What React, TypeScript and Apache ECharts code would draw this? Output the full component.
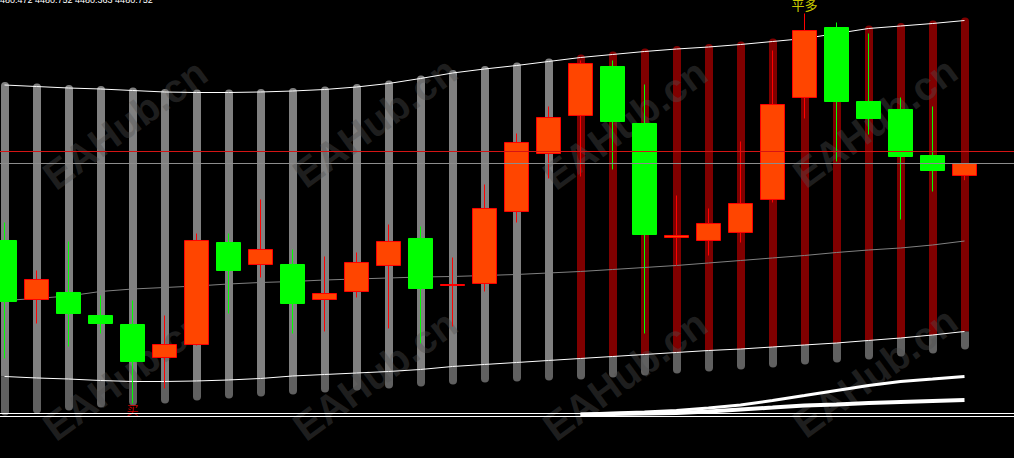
import React, { useEffect, useRef } from 'react';
import * as echarts from 'echarts';

// ---------- data ----------
// bar index positions (0 = oldest bar on screen)
const barIndex = Array.from({ length: 31 }, (_, i) => i);

// [open, close, low, high]
const candles: number[][] = [
  [4478.955, 4477.532, 4476.202, 4479.375],
  [4477.578, 4478.045, 4477.018, 4478.255],
  [4477.742, 4477.252, 4476.482, 4478.932],
  [4477.205, 4477.018, 4476.785, 4477.672],
  [4476.995, 4476.132, 4475.152, 4477.555],
  [4476.225, 4476.528, 4475.502, 4477.205],
  [4476.528, 4478.955, 4476.505, 4479.118],
  [4478.908, 4478.255, 4477.252, 4479.118],
  [4478.395, 4478.745, 4478.092, 4479.912],
  [4478.395, 4477.485, 4476.785, 4478.745],
  [4477.578, 4477.718, 4476.832, 4478.582],
  [4477.765, 4478.442, 4477.625, 4478.675],
  [4478.372, 4478.932, 4476.902, 4479.328],
  [4479.002, 4477.835, 4476.552, 4479.282],
  [4477.905, 4477.928, 4476.948, 4478.558],
  [4477.952, 4479.702, 4477.765, 4480.262],
  [4479.632, 4481.242, 4479.375, 4481.452],
  [4480.985, 4481.825, 4480.402, 4482.082],
  [4481.872, 4483.085, 4480.448, 4483.155],
  [4483.015, 4481.732, 4480.612, 4483.155],
  [4481.685, 4479.095, 4476.785, 4482.595],
  [4479.025, 4479.072, 4478.372, 4480.005],
  [4478.955, 4479.352, 4478.605, 4479.702],
  [4479.142, 4479.818, 4478.908, 4481.265],
  [4479.912, 4482.128, 4479.842, 4483.388],
  [4482.292, 4483.855, 4481.802, 4484.252],
  [4483.925, 4482.198, 4480.798, 4484.042],
  [4482.198, 4481.802, 4481.428, 4483.785],
  [4482.012, 4480.915, 4479.445, 4482.292],
  [4480.938, 4480.588, 4480.098, 4482.082],
  [4480.472, 4480.752, 4480.363, 4480.752],
];

const upperBand = [
  4482.583, 4482.548, 4482.513, 4482.49, 4482.455, 4482.42, 4482.408, 4482.408, 4482.42, 4482.443,
  4482.478, 4482.537, 4482.618, 4482.735, 4482.863, 4482.957, 4483.038, 4483.132, 4483.225, 4483.295,
  4483.365, 4483.423, 4483.47, 4483.528, 4483.598, 4483.668, 4483.785, 4483.902, 4483.96, 4484.018,
  4484.088,
];

const lowerBand = [
  4475.782, 4475.747, 4475.723, 4475.688, 4475.665, 4475.665, 4475.677, 4475.7, 4475.735, 4475.793,
  4475.828, 4475.863, 4475.898, 4475.945, 4476.015, 4476.062, 4476.108, 4476.155, 4476.202, 4476.248,
  4476.295, 4476.342, 4476.388, 4476.423, 4476.47, 4476.517, 4476.563, 4476.622, 4476.68, 4476.75,
  4476.832,
];

const columnBase = [
  4474.872, 4474.918, 4474.988, 4475.058, 4475.105, 4475.152, 4475.222, 4475.268, 4475.315, 4475.362,
  4475.408, 4475.455, 4475.502, 4475.548, 4475.595, 4475.642, 4475.665, 4475.688, 4475.712, 4475.758,
  4475.805, 4475.852, 4475.898, 4475.945, 4475.992, 4476.062, 4476.108, 4476.178, 4476.248, 4476.318,
  4476.412,
];

// 0 = neutral zone (grey), 1 = long zone (dark red)
const columnZone = [
  0, 0, 0, 0, 0, 0, 0, 0, 0, 0, 0, 0, 0, 0, 0, 0, 0, 0,
  1, 1, 1, 1, 1, 1, 1, 1, 1, 1, 1, 1, 1,
];

const maLine = [
  4477.555, 4477.602, 4477.66, 4477.765, 4477.823, 4477.858, 4477.893, 4477.94, 4477.975, 4477.998,
  4478.033, 4478.057, 4478.08, 4478.103, 4478.115, 4478.138, 4478.162, 4478.197, 4478.232, 4478.278,
  4478.325, 4478.372, 4478.43, 4478.488, 4478.547, 4478.605, 4478.675, 4478.733, 4478.78, 4478.85,
  4478.943,
];

const oscA = [
  null, null, null, null, null, null, null, null, null, null, null, null, null, null, null, null, null, null,
  4474.9, 4474.93, 4474.953, 4474.988, 4475.047, 4475.117, 4475.222, 4475.338, 4475.455, 4475.572,
  4475.665, 4475.723, 4475.782,
];

const oscB = [
  null, null, null, null, null, null, null, null, null, null, null, null, null, null, null, null, null, null,
  4474.895, 4474.907, 4474.918, 4474.93, 4474.965, 4475.012, 4475.058, 4475.105, 4475.128, 4475.163,
  4475.187, 4475.21, 4475.233,
];

const askPrice = 4481.032;
const bidPrice = 4480.752;
const yMax = 4484.5667;
const yMin = 4473.8797;
const xMin = -0.140625;
const xMax = 31.546875;

const signals = [
  { index: 25, price: 4484.462, text: '平多', color: '#FFFF00', size: 13 },
  { index: 4, price: 4475.0, text: '买', color: '#FF0000', size: 12 },
];

const watermarkText = 'EAHub.cn';
const watermarkSpots = [
  [125, 124], [375, 122], [625, 124], [875, 122],
  [125, 375], [375, 375], [625, 375], [875, 372],
];

// ---------- chart ----------
const pairs = (arr: (number | null)[]) =>
  arr.map((v, i) => (v == null ? null : [barIndex[i], v])).filter((p) => p !== null);

function buildOption() {
  const last = candles[candles.length - 1];
  const ohlcText = `${last[0].toFixed(3)} ${last[3].toFixed(3)} ${last[2].toFixed(3)} ${last[1].toFixed(3)}`;

  const columnData = candles.map((_, i) => [barIndex[i], upperBand[i], lowerBand[i], columnBase[i], columnZone[i]]);
  const candleData = candles.map((c, i) => [barIndex[i], c[0], c[1], c[2], c[3]]);

  return {
    animation: false,
    backgroundColor: '#000000',
    grid: { left: 0, right: 0, top: 0, bottom: 0, containLabel: false },
    xAxis: {
      type: 'value',
      min: xMin,
      max: xMax,
      show: false,
      splitLine: { show: false },
    },
    yAxis: {
      type: 'value',
      min: yMin,
      max: yMax,
      show: false,
      splitLine: { show: false },
    },
    graphic: [
      ...watermarkSpots.map(([x, y]) => ({
        type: 'text',
        x,
        y,
        rotation: 0.63,
        z: 2,
        silent: true,
        style: {
          text: watermarkText,
          fill: 'rgba(80,80,80,0.38)',
          font: 'bold 40px "Liberation Sans", Arial, sans-serif',
          align: 'center',
          verticalAlign: 'middle',
        },
      })),
      {
        type: 'line',
        z: 6,
        silent: true,
        shape: { x1: 0, y1: 413.5, x2: 1014, y2: 413.5 },
        style: { stroke: '#ffffff', lineWidth: 1 },
      },
      {
        type: 'line',
        z: 6,
        silent: true,
        shape: { x1: 0, y1: 416.5, x2: 1014, y2: 416.5 },
        style: { stroke: '#ffffff', lineWidth: 1 },
      },
      {
        type: 'text',
        x: -5,
        y: -4.5,
        z: 10,
        silent: true,
        style: {
          text: ohlcText,
          fill: '#ffffff',
          font: '9px "Liberation Sans", Arial, sans-serif',
          align: 'left',
          verticalAlign: 'top',
        },
      },
    ],
    series: [
      {
        type: 'custom',
        z: 1,
        silent: true,
        data: columnData,
        encode: { x: 0, y: [1, 2, 3] },
        renderItem: (params: any, api: any) => {
          const k = api.value(0);
          const top = api.coord([k, api.value(1)]);
          const mid = api.coord([k, api.value(2)]);
          const bot = api.coord([k, api.value(3)]);
          const zone = api.value(4);
          const w = 8;
          const cx = Math.round(top[0]);
          return {
            type: 'group',
            children: [
              {
                type: 'rect',
                shape: { x: cx - w / 2, y: top[1] - 3, width: w, height: mid[1] - top[1] + 3, r: [4, 4, 0, 0] },
                style: { fill: zone === 1 ? '#800000' : '#808080' },
              },
              {
                type: 'rect',
                shape: { x: cx - w / 2, y: mid[1], width: w, height: bot[1] - mid[1], r: [0, 0, 4, 4] },
                style: { fill: '#606060' },
              },
            ],
          };
        },
      },
      {
        type: 'line',
        z: 3,
        silent: true,
        data: pairs(upperBand),
        symbol: 'none',
        lineStyle: { color: '#ffffff', width: 1 },
      },
      {
        type: 'line',
        z: 3,
        silent: true,
        data: pairs(lowerBand),
        symbol: 'none',
        lineStyle: { color: '#ffffff', width: 1 },
      },
      {
        type: 'line',
        z: 3,
        silent: true,
        data: pairs(maLine),
        symbol: 'none',
        lineStyle: { color: '#808080', width: 1 },
        markLine: {
          silent: true,
          symbol: 'none',
          label: { show: false },
          lineStyle: { type: 'solid', width: 1 },
          data: [
            { yAxis: askPrice, lineStyle: { color: '#d41414', type: 'solid', width: 1 } },
            { yAxis: bidPrice, lineStyle: { color: '#8c8c8c', type: 'solid', width: 1 } },
          ],
        },
      },
      {
        type: 'line',
        z: 3,
        silent: true,
        data: pairs(oscA),
        symbol: 'none',
        lineStyle: { color: '#ffffff', width: 3 },
      },
      {
        type: 'line',
        z: 3,
        silent: true,
        data: pairs(oscB),
        symbol: 'none',
        lineStyle: { color: '#ffffff', width: 4 },
      },
      {
        type: 'candlestick',
        z: 4,
        silent: true,
        barWidth: 24,
        layout: 'horizontal',
        data: candleData,
        encode: { x: 0, y: [1, 2, 3, 4] },
        itemStyle: {
          color: '#FF4500',
          color0: '#00FF00',
          borderColor: '#FF0000',
          borderColor0: '#00FF00',
          borderWidth: 1,
        },
      },
      {
        type: 'scatter',
        z: 5,
        silent: true,
        symbolSize: 1,
        itemStyle: { color: 'rgba(0,0,0,0)' },
        data: signals.map((s) => ({
          value: [s.index, s.price],
          label: {
            show: true,
            position: 'inside',
            formatter: s.text,
            color: s.color,
            fontSize: s.size,
            fontFamily: '"Noto Sans CJK SC", sans-serif',
          },
        })),
      },
    ],
  };
}

export default function App() {
  const ref = useRef<HTMLDivElement>(null);
  useEffect(() => {
    if (!ref.current) return;
    const chart = echarts.init(ref.current, null, { renderer: 'svg' });
    chart.setOption(buildOption() as any);
    return () => {
      chart.dispose();
    };
  }, []);
  return (
    <div
      ref={ref}
      style={{ position: 'fixed', left: 0, top: 0, width: 1014, height: 458, background: '#000' }}
    />
  );
}
